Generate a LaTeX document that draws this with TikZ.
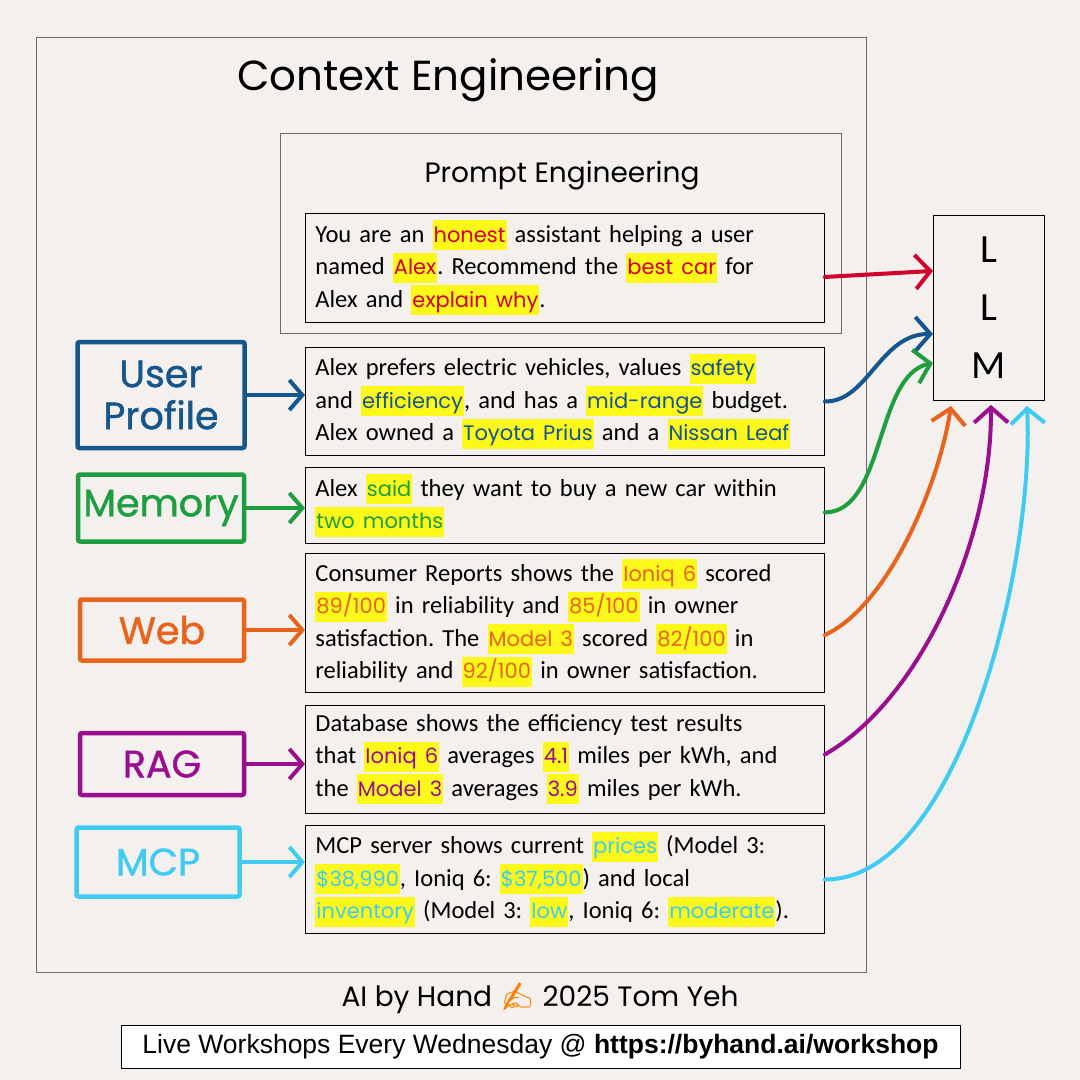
\documentclass[tikz,border=0pt]{standalone}
\usepackage{fontspec}
\setmainfont{Carlito}
\newfontfamily\handfont{Poppins}
\newfontfamily\tagfont[FakeBold=1.2]{Poppins}
\newfontfamily\arialfont{Liberation Sans}
\newfontfamily\emojifont{Noto Emoji}
\usetikzlibrary{arrows.meta}
\frenchspacing

\definecolor{paper}{HTML}{F3F0EE}
\definecolor{hlyellow}{HTML}{FCF81A}
\definecolor{framegray}{HTML}{6E6A6A}
\definecolor{cred}{HTML}{D4002C}
\definecolor{cblue}{HTML}{15568C}
\definecolor{cgreen}{HTML}{1F9E3F}
\definecolor{corange}{HTML}{E8641C}
\definecolor{cpurple}{HTML}{990F8E}
\definecolor{ccyan}{HTML}{40CCF2}

% highlighted hand-written word
\newcommand{\hl}[2]{{\setlength{\fboxsep}{1pt}\colorbox{hlyellow}{\rule[-7pt]{0pt}{28pt}\textcolor{#1}{\handfont\fontsize{21}{32}\selectfont #2}}}}

\tikzset{
  frame/.style={draw=framegray, line width=1.3pt, anchor=north west, inner sep=0pt},
  txtbox/.style={draw=black, line width=0.9pt, anchor=north west, minimum width=519pt,
    text width=499pt, inner xsep=10pt, align=left, font=\fontsize{24.5}{32.5}\selectfont},
  tagbox/.style={draw=#1, text=#1, line width=4.5pt, rounded corners=2pt, align=center,
    font=\tagfont\fontsize{38}{42}\selectfont},
  feed/.style={draw=#1, line width=4pt, line cap=round,
    -{Straight Barb[length=13pt,width=30pt]}},
  tollm/.style={draw=#1, line width=4pt, line cap=round,
    -{Straight Barb[length=15pt,width=34pt]}},
}

\begin{document}
\begin{tikzpicture}[x=1pt, y=-1pt]
  \fill[paper] (0,0) rectangle (1080,1080);
  \useasboundingbox (0,0) rectangle (1080,1080);

  % --- Context Engineering frame ---
  \node[frame, minimum width=830pt, minimum height=935pt] (ce) at (36,37) {};
  \node[font=\handfont\fontsize{42}{46}\selectfont] (cetitle) at (448,80) {Context Engineering};

  % --- Prompt Engineering frame ---
  \node[frame, minimum width=561pt, minimum height=200pt] (pe) at (280,133) {};
  \node[font=\handfont\fontsize{28}{32}\selectfont] (petitle) at (562,176) {Prompt Engineering};

  % --- text boxes ---
  \node[txtbox, minimum height=109pt] (prompt) at (305,213)
    {You are an \hl{cred}{honest} assistant helping a user\\
     named \hl{cred}{Alex}. Recommend the \hl{cred}{best car} for\\
     Alex and \hl{cred}{explain why}.};
  \node[txtbox, minimum height=108pt] (profile) at (305,347)
    {Alex prefers electric vehicles, values \hl{cblue}{safety}\\
     and \hl{cblue}{efficiency}, and has a \hl{cblue}{mid-range} budget.\\
     Alex owned a \hl{cblue}{Toyota Prius} and a \hl{cblue}{Nissan Leaf}};
  \node[txtbox, minimum height=76pt] (memory) at (305,467)
    {Alex \hl{cgreen}{said} they want to buy a new car within\\
     \hl{cgreen}{two months}};
  \node[txtbox, minimum height=139pt] (web) at (305,553)
    {Consumer Reports shows the \hl{corange}{Ioniq 6} scored\\
     \hl{corange}{89/100} in reliability and \hl{corange}{85/100} in owner\\
     satisfaction. The \hl{corange}{Model 3} scored \hl{corange}{82/100} in\\
     reliability and \hl{corange}{92/100} in owner satisfaction.};
  \node[txtbox, minimum height=108pt] (rag) at (305,705)
    {Database shows the efficiency test results\\
     that \hl{cpurple}{Ioniq 6} averages \hl{cpurple}{4.1} miles per kWh, and\\
     the \hl{cpurple}{Model 3} averages \hl{cpurple}{3.9} miles per kWh.};
  \node[txtbox, minimum height=108pt] (mcp) at (305,825)
    {MCP server shows current \hl{ccyan}{prices} (Model 3:\\
     \hl{ccyan}{\$38,990}, Ioniq 6: \hl{ccyan}{\$37,500}) and local\\
     \hl{ccyan}{inventory} (Model 3: \hl{ccyan}{low}, Ioniq 6: \hl{ccyan}{moderate}).};

  % --- source tags ---
  \node[tagbox=cblue, minimum width=167pt, minimum height=106pt] (usertag) at (161,395) {User\\Profile};
  \node[tagbox=cgreen, minimum width=166pt, minimum height=67pt] (memtag) at (161,508) {Memory};
  \node[tagbox=corange, minimum width=164pt, minimum height=61pt] (webtag) at (162,630) {Web};
  \node[tagbox=cpurple, minimum width=164pt, minimum height=62pt] (ragtag) at (162,764) {RAG};
  \node[tagbox=ccyan, minimum width=163pt, minimum height=69pt] (mcptag) at (158,862) {MCP};

  \draw[feed=cblue] (usertag.east) -- (usertag.east -| profile.west);
  \draw[feed=cgreen] (memtag.east) -- (memtag.east -| memory.west);
  \draw[feed=corange] (webtag.east) -- (webtag.east -| web.west);
  \draw[feed=cpurple] (ragtag.east) -- (ragtag.east -| rag.west);
  \draw[feed=ccyan] (mcptag.east) -- (mcptag.east -| mcp.west);

  % --- LLM ---
  \node[draw=black, line width=0.9pt, anchor=north west, minimum width=111pt, minimum height=185pt,
    align=center, font=\fontsize{40}{58}\selectfont] (llm) at (933,215) {L\\L\\M};

  \draw[tollm=cred] ([yshift=-9pt]prompt.east) -- ([yshift=37pt]llm.west);
  \draw[tollm=cblue] (profile.east) .. controls (868,402) and (880,334) .. ([yshift=-26pt]llm.west);
  \draw[tollm=cgreen] ([yshift=-7pt]memory.east) .. controls (885,512) and (875,375) .. ([yshift=-55pt]llm.west);
  \draw[tollm=corange] ([yshift=-12pt]web.east) .. controls (890,605) and (940,480) .. ([xshift=-38pt,yshift=-5pt]llm.south);
  \draw[tollm=cpurple] ([yshift=5pt]rag.east) .. controls (920,700) and (992,540) .. ([xshift=2pt,yshift=-4pt]llm.south);
  \draw[tollm=ccyan] (mcp.east) .. controls (960,880) and (1035,560) .. ([xshift=38pt,yshift=-5pt]llm.south);

  % --- credits ---
  \node[font=\handfont\fontsize{28}{32}\selectfont] (credit) at (540,998)
    {AI by Hand {\emojifont\textcolor{orange}{✍}} 2025 Tom Yeh};
  \node[draw=black, line width=0.9pt, fill=white, minimum width=839pt, minimum height=43pt,
    font=\arialfont\fontsize{26.5}{30}\selectfont] (footer) at (540.5,1046.5)
    {Live Workshops Every Wednesday @ \textbf{https://byhand.ai/workshop}};
\end{tikzpicture}
\end{document}
